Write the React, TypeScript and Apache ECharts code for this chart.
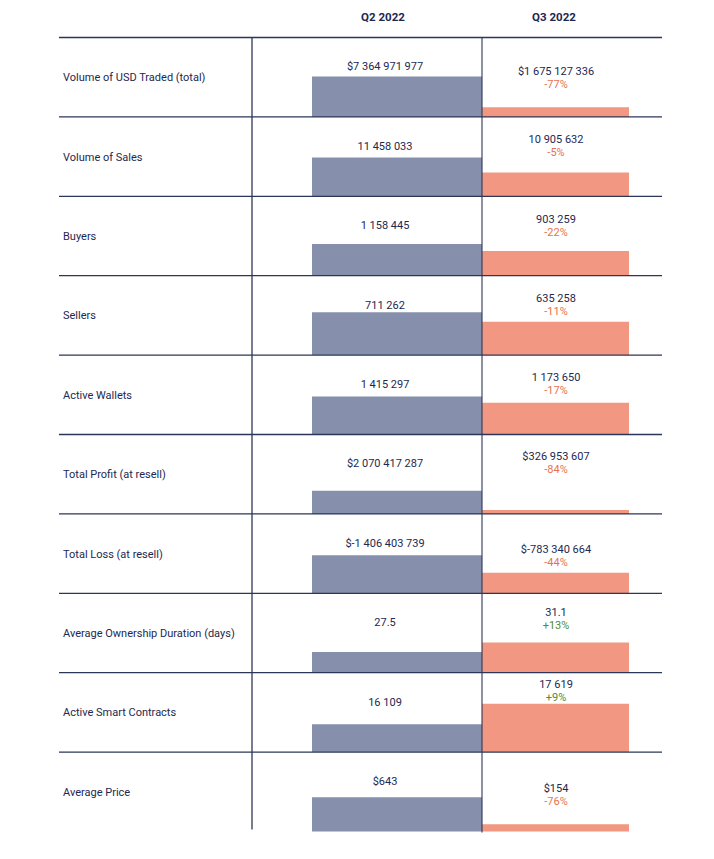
import React, { useEffect, useRef } from "react";
import * as echarts from "echarts";

const periods = ["Q2 2022", "Q3 2022"];
const metrics = [
  "Volume of USD Traded (total)",
  "Volume of Sales",
  "Buyers",
  "Sellers",
  "Active Wallets",
  "Total Profit (at resell)",
  "Total Loss (at resell)",
  "Average Ownership Duration (days)",
  "Active Smart Contracts",
  "Average Price",
];
const isCurrency = [true, false, false, false, false, true, true, false, false, true];
const q2Values = [7364971977, 11458033, 1158445, 711262, 1415297, 2070417287, -1406403739, 27.5, 16109, 643];
const q3Values = [1675127336, 10905632, 903259, 635258, 1173650, 326953607, -783340664, 31.1, 17619, 154];
const changes = [-77, -5, -22, -11, -17, -84, -44, 13, 9, -76];
// bar heights, in percent of a row's height
const q2BarHeights = [51, 49, 40, 54, 48, 29, 48, 26, 35, 43];
const q3BarHeights = [12, 30, 31, 42, 40, 5, 26, 38, 61, 9];

// layout (x in px from the table's left edge; y offsets in px from a row's top)
const X_LABEL = 4;
const X_DIVIDER = 193;
const X_Q2_START = 253;
const X_MID = 423;
const X_Q3_END = 570;
const X_Q2_TEXT = 326;
const X_Q3_TEXT = 497;
const TABLE_W = 603;
const Q2_TEXT_DY = 29.3;
const Q3_TEXT_DY = [34.3, 23, 22.7, 22.6, 22.3, 22.4, 36, 18.7, 11.7, 36.6];

const NAVY = "#1e2850";
const LINE = "#2c3659";
const Q2_COLOR = "#8690ad";
const Q3_COLOR = "#f29781";
const NEG = "#e8714f";
const POS = "#4e8c3a";
const FONT = "Roboto, 'Noto Sans', sans-serif";

function fmt(v: number, cur: boolean): string {
  const neg = v < 0;
  const [i, d] = String(Math.abs(v)).split(".");
  const g = i.replace(/\B(?=(\d{3})+(?!\d))/g, " ");
  return (cur ? "$" : "") + (neg ? "-" : "") + g + (d ? "." + d : "");
}

export default function App() {
  const ref = useRef<HTMLDivElement>(null);
  useEffect(() => {
    if (!ref.current) return;
    const chart = echarts.init(ref.current, undefined, { renderer: "svg" });
    const data = metrics.map((_, i) => [i, q2BarHeights[i], q3BarHeights[i]]);
    chart.setOption({
      animation: false,
      backgroundColor: "#ffffff",
      grid: { left: 59, top: 37.5, width: TABLE_W, height: 794 },
      xAxis: { type: "value", min: 0, max: TABLE_W, show: false },
      yAxis: { type: "value", min: 0, max: 10, inverse: true, show: false },
      series: [
        {
          type: "custom",
          data,
          clip: false,
          renderItem: (params: any, api: any) => {
            const r = api.value(0) as number;
            const X = (u: number) => api.coord([u, 0])[0];
            const Y = (v: number) => api.coord([0, v])[1];
            const top = Y(r);
            const bot = Y(r + 1);
            const q2Top = Y(r + 1 - (api.value(1) as number) / 100);
            const q3Top = Y(r + 1 - (api.value(2) as number) / 100);
            const ch = changes[r];
            const children: any[] = [
              {
                type: "rect",
                shape: { x: X(X_Q2_START), y: q2Top, width: X(X_MID) - X(X_Q2_START), height: bot - q2Top },
                style: { fill: Q2_COLOR },
              },
              {
                type: "rect",
                shape: { x: X(X_MID), y: q3Top, width: X(X_Q3_END) - X(X_MID), height: bot - q3Top },
                style: { fill: Q3_COLOR },
              },
              {
                type: "line",
                shape: { x1: X(0), y1: top, x2: X(TABLE_W), y2: top },
                style: { stroke: LINE, lineWidth: 1.3 },
              },
              {
                type: "line",
                shape: { x1: X(X_DIVIDER), y1: top, x2: X(X_DIVIDER), y2: r === 9 ? bot - 2 : bot },
                style: { stroke: LINE, lineWidth: 1.3 },
              },
              {
                type: "line",
                shape: { x1: X(X_MID), y1: top, x2: X(X_MID), y2: bot + (r === 9 ? 1 : 0) },
                style: { stroke: LINE, lineWidth: 1.1 },
              },
              {
                type: "text",
                x: X(X_LABEL),
                y: (top + bot) / 2 + 0.5,
                style: {
                  text: metrics[r],
                  fill: NAVY,
                  fontSize: 11,
                  fontFamily: FONT,
                  align: "left",
                  verticalAlign: "middle",
                },
              },
              {
                type: "text",
                x: X(X_Q2_TEXT),
                y: top + Q2_TEXT_DY,
                style: {
                  text: fmt(q2Values[r], isCurrency[r]),
                  fill: NAVY,
                  fontSize: 11,
                  fontFamily: FONT,
                  align: "center",
                  verticalAlign: "middle",
                },
              },
              {
                type: "text",
                x: X(X_Q3_TEXT),
                y: top + Q3_TEXT_DY[r],
                style: {
                  text: fmt(q3Values[r], isCurrency[r]),
                  fill: NAVY,
                  fontSize: 11,
                  fontFamily: FONT,
                  align: "center",
                  verticalAlign: "middle",
                },
              },
              {
                type: "text",
                x: X(X_Q3_TEXT),
                y: top + Q3_TEXT_DY[r] + 13,
                style: {
                  text: (ch > 0 ? "+" : "") + ch + "%",
                  fill: ch > 0 ? POS : NEG,
                  fontSize: 11,
                  fontFamily: FONT,
                  align: "center",
                  verticalAlign: "middle",
                },
              },
            ];
            if (r === 0) {
              [X_Q2_TEXT, X_Q3_TEXT].forEach((xx, k) => {
                children.push({
                  type: "text",
                  x: X(xx) - 2,
                  y: top - 20.5,
                  style: {
                    text: periods[k],
                    fill: NAVY,
                    fontSize: 11.5,
                    fontWeight: "bold",
                    fontFamily: FONT,
                    align: "center",
                    verticalAlign: "middle",
                  },
                });
              });
            }
            return { type: "group", children };
          },
        },
      ],
    });
    return () => chart.dispose();
  }, []);
  return (
    <div
      ref={ref}
      style={{ position: "fixed", left: 0, top: 0, width: 714, height: 859, background: "#fff" }}
    />
  );
}
